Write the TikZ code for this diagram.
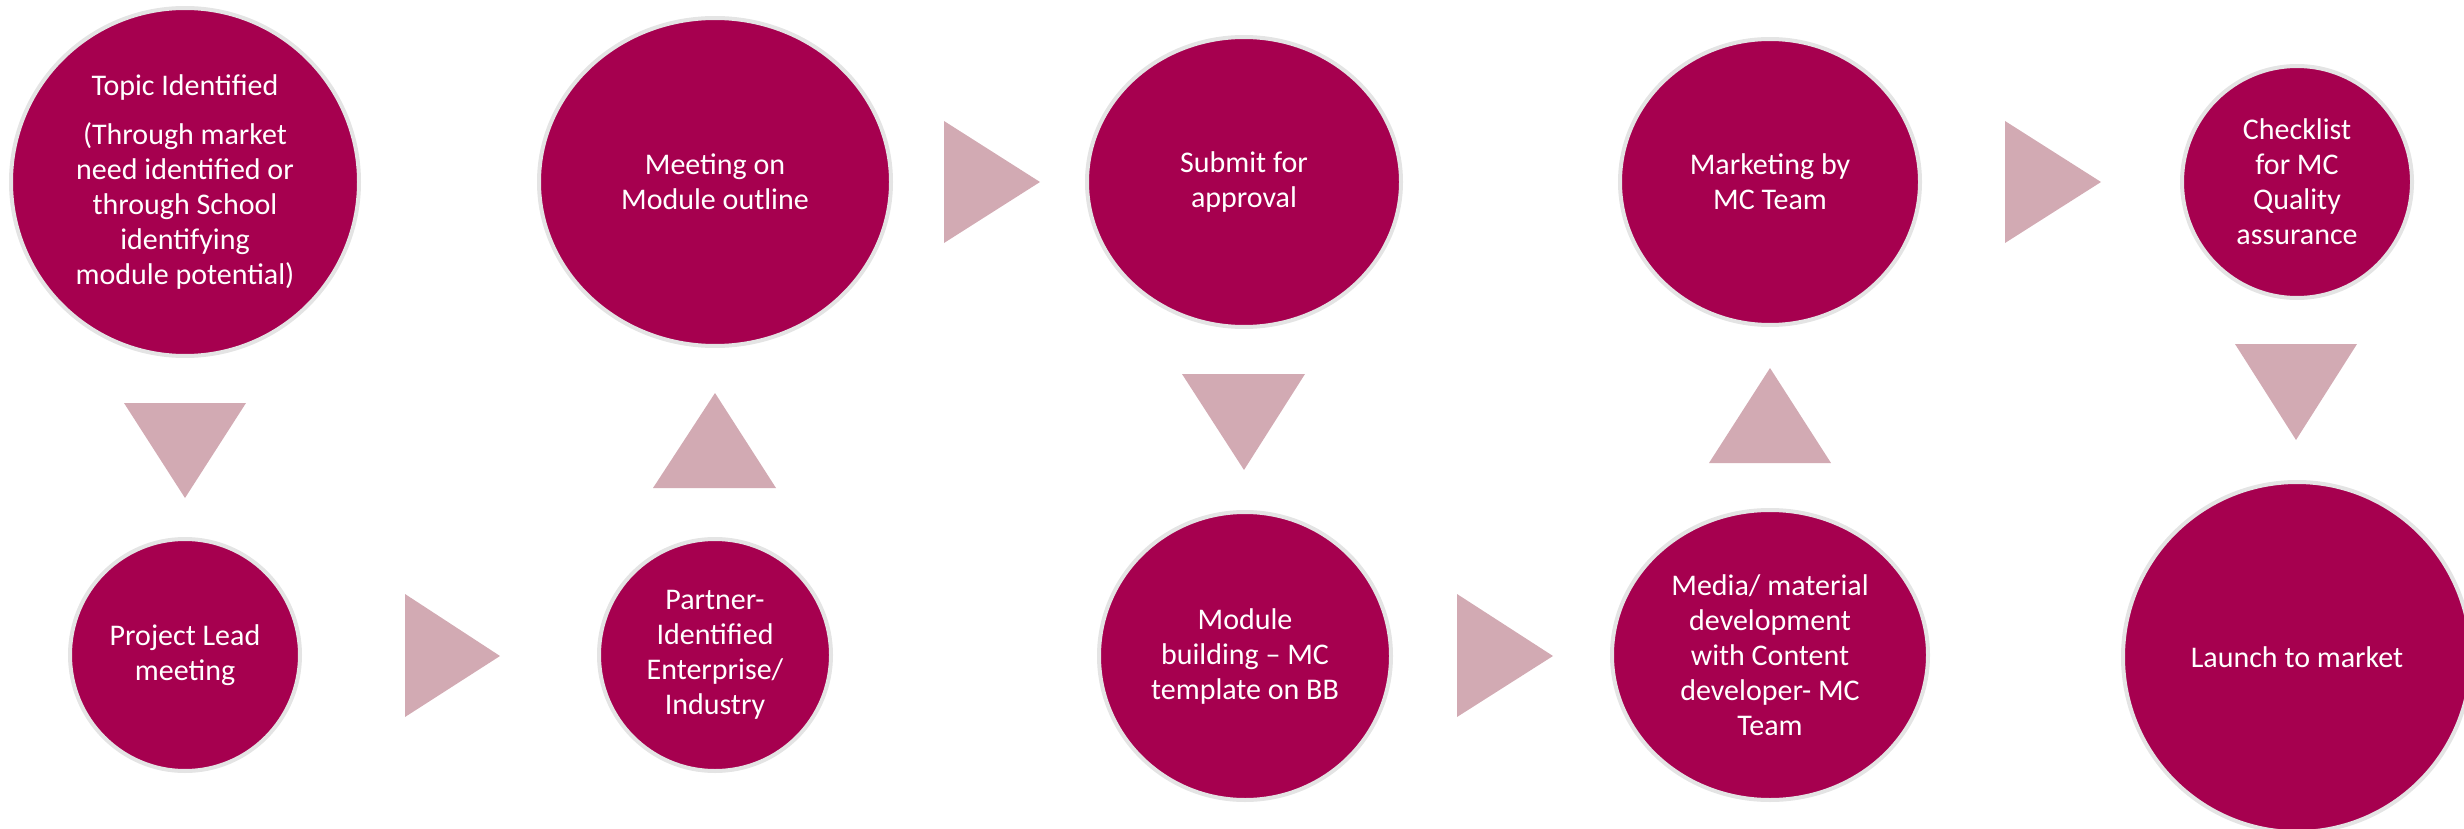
\documentclass[tikz,border=0pt]{standalone}
\usepackage{fontspec}
\setmainfont{Carlito}
\usetikzlibrary{shapes.geometric}
\definecolor{berry}{HTML}{A6004F}
\definecolor{rose}{HTML}{D2AAB3}
\definecolor{rim}{HTML}{E4E4E4}
\begin{document}
\begin{tikzpicture}[x=0.5pt,y=-0.5pt,
  stage/.style={ellipse, fill=berry, draw=rim, line width=2pt, inner sep=0pt,
    text=white, align=center, font=\fontsize{15}{17.5}\selectfont},
  pointer/.style={fill=rose}]
\useasboundingbox (0,0) rectangle (2464,829);
% stages
\node[stage, minimum width=174pt, minimum height=174pt] (topic) at (185,182)
  {Topic Identified\\[7pt](Through market\\need identified or\\through School\\identifying\\module potential)};
\node[stage, minimum width=176pt, minimum height=164pt] (meeting) at (715,182) {Meeting on\\Module outline};
\node[stage, minimum width=157pt, minimum height=145pt] (submit) at (1244,182) {Submit for\\approval};
\node[stage, minimum width=150pt, minimum height=143pt] (marketing) at (1770,182) {Marketing by\\MC Team};
\node[stage, minimum width=115pt, minimum height=116pt] (checklist) at (2297,182) {Checklist\\for MC\\Quality\\assurance};
\node[stage, minimum width=115pt, minimum height=116pt] (lead) at (185,655) {Project Lead\\meeting};
\node[stage, minimum width=116pt, minimum height=116pt] (partner) at (715,655) {Partner-\\Identified\\Enterprise/\\Industry};
\node[stage, minimum width=146pt, minimum height=144pt] (building) at (1245,656) {Module\\building – MC\\template on BB};
\node[stage, minimum width=158pt, minimum height=145pt] (media) at (1770,655) {Media/ material\\development\\with Content\\developer- MC\\Team};
\node[stage, minimum width=174pt, minimum height=175pt] (launch) at (2297,657) {Launch to market};
% pointers
\fill[pointer] (124,403) -- (246,403) -- (185,498) -- cycle;
\fill[pointer] (405,594) -- (405,717) -- (500,656) -- cycle;
\fill[pointer] (653,488) -- (776,488) -- (715,393) -- cycle;
\fill[pointer] (944,121) -- (944,243) -- (1040,182) -- cycle;
\fill[pointer] (1182,374) -- (1305,374) -- (1244,470) -- cycle;
\fill[pointer] (1457,594) -- (1457,717) -- (1553,656) -- cycle;
\fill[pointer] (1709,463) -- (1831,463) -- (1770,368) -- cycle;
\fill[pointer] (2005,121) -- (2005,243) -- (2101,182) -- cycle;
\fill[pointer] (2235,344) -- (2357,344) -- (2296,440) -- cycle;
\end{tikzpicture}
\end{document}
